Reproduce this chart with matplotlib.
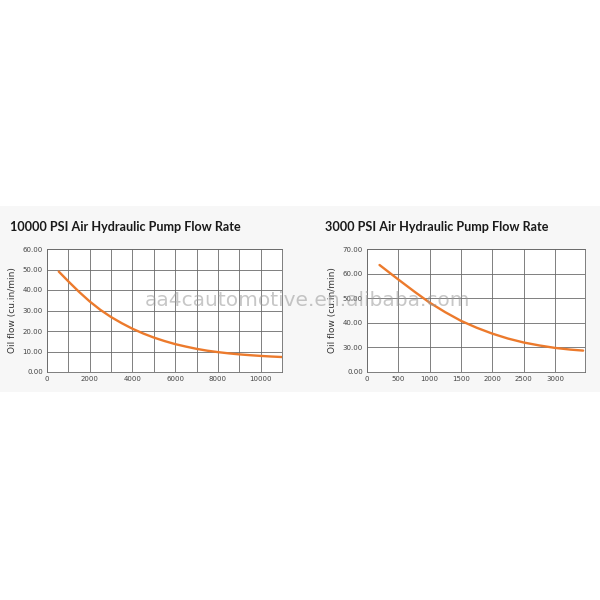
"""
Flow rate curves for two air hydraulic pumps, side by side
"""
import matplotlib.pyplot as plt
from matplotlib.patches import Rectangle

# 10000 PSI pump: pressure (psi) vs oil flow
hp_pressure = [550, 1000, 1500, 2000, 2500, 3000, 3500, 4000, 4500, 5000, 5500,
               6000, 6500, 7000, 7500, 8000, 8500, 9000, 9500, 10000, 10500, 11000]
hp_flow = [49.0, 44.2, 39.1, 34.4, 30.3, 26.8, 23.8, 21.1, 18.8, 16.8, 15.1,
           13.6, 12.4, 11.3, 10.4, 9.7, 9.1, 8.6, 8.2, 7.85, 7.55, 7.3]

# 3000 PSI pump
lp_pressure = [200, 500, 750, 1000, 1250, 1500, 1750, 2000, 2250, 2500, 2750,
               3000, 3250, 3450]
lp_flow = [63.5, 57.6, 52.8, 48.2, 44.3, 40.8, 38.0, 35.6, 33.6, 32.0, 30.8,
           29.8, 29.1, 28.7]

hp_xticks = [0, 2000, 4000, 6000, 8000, 10000]
hp_yticks = [0, 10, 20, 30, 40, 50, 60]
lp_xticks = [0, 500, 1000, 1500, 2000, 2500, 3000]
# the right chart uses a broken axis: bottom label is 0.00, then 30..70
lp_yticks = [20, 30, 40, 50, 60, 70]
lp_ylabels = ["0.00", "30.00", "40.00", "50.00", "60.00", "70.00"]

titles = ["10000 PSI Air Hydraulic Pump Flow Rate", "3000 PSI Air Hydraulic Pump Flow Rate"]
ylabel = "Oil flow (cu.in/min)"

orange = "#ec7a2c"
grid_col = "#6a6a6a"

fig = plt.figure(figsize=(6, 6), dpi=100)
fig.patch.set_facecolor("white")
# faint grey band behind the charts
band = Rectangle((0, 1 - 392 / 600), 1, (392 - 206) / 600,
                 transform=fig.transFigure, facecolor="#f7f7f7",
                 edgecolor="none", zorder=-5)
fig.add_artist(band)

def style_axes(ax):
    ax.set_facecolor("white")
    ax.grid(True, color=grid_col, linewidth=0.6)
    ax.set_axisbelow(True)
    for s in ax.spines.values():
        s.set_color(grid_col)
        s.set_linewidth(0.6)
    ax.tick_params(length=0, labelsize=5, colors="#444444", pad=3)

# left chart
ax1 = fig.add_axes([47 / 600, 1 - 372 / 600, 235 / 600, 123 / 600])
ax1.plot(hp_pressure, hp_flow, color=orange, linewidth=1.7,
         solid_joinstyle="round", solid_capstyle="round")
ax1.set_xlim(0, 11000)
ax1.set_ylim(0, 60)
ax1.set_xticks(range(0, 11001, 1000))
ax1.set_xticklabels([str(v) if v in hp_xticks else "" for v in range(0, 11001, 1000)])
ax1.set_yticks(hp_yticks)
ax1.set_yticklabels([f"{v:.2f}" for v in hp_yticks])
style_axes(ax1)
ax1.set_ylabel(ylabel, fontsize=6.5, color="#333333", labelpad=4)

# right chart
ax2 = fig.add_axes([367 / 600, 1 - 372 / 600, 218 / 600, 123 / 600])
ax2.plot(lp_pressure, lp_flow, color=orange, linewidth=1.7,
         solid_joinstyle="round", solid_capstyle="round")
ax2.set_xlim(0, 3480)
ax2.set_ylim(20, 70)
ax2.set_xticks(lp_xticks)
ax2.set_xticklabels([str(v) for v in lp_xticks])
ax2.set_yticks(lp_yticks)
ax2.set_yticklabels(lp_ylabels)
style_axes(ax2)
ax2.set_ylabel(ylabel, fontsize=6.5, color="#333333", labelpad=4)

# titles
fig.text(10 / 600, 1 - 227 / 600, titles[0], fontsize=9.1, fontweight="bold",
         family="Lato", color="#1a1a1a", va="center", ha="left")
fig.text(325 / 600, 1 - 227 / 600, titles[1], fontsize=9.1, fontweight="bold",
         family="Lato", color="#1a1a1a", va="center", ha="left")

# watermark
fig.text(145 / 600, 1 - 300 / 600, "aa4cautomotive.en.alibaba.com", fontsize=14.5,
         color="#999999", alpha=0.55, va="center", ha="left", zorder=10)

fig.savefig("out.png", dpi=100)
